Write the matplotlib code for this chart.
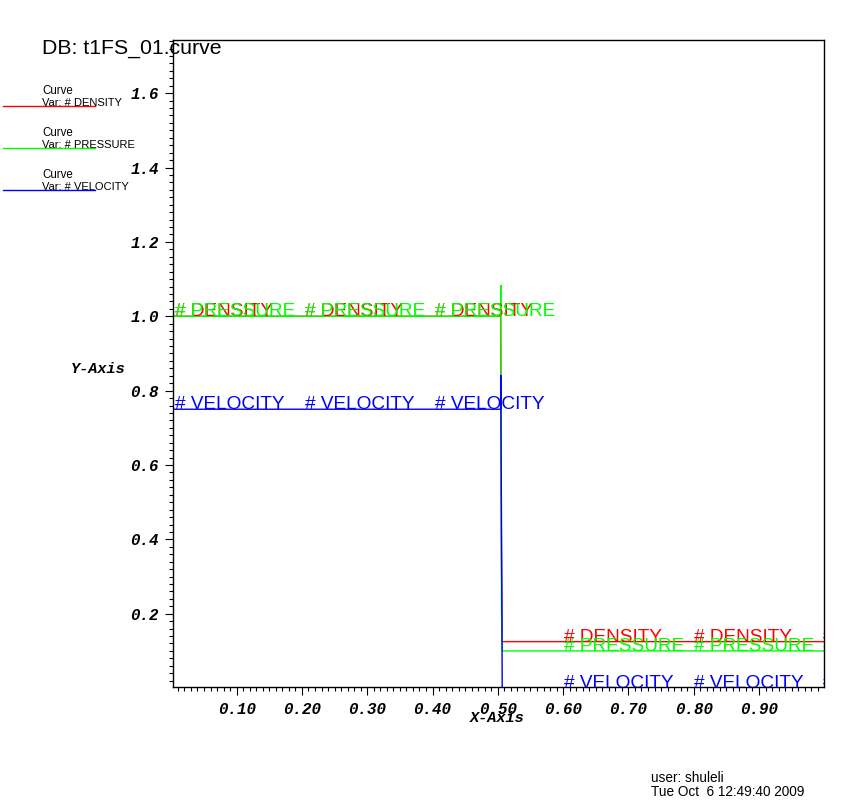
import numpy as np
import matplotlib
matplotlib.use("Agg")
import matplotlib.pyplot as plt
from matplotlib.ticker import MultipleLocator, FormatStrFormatter

# curve data (shock tube state at the end time)
x_density = [0.0, 0.5043, 0.5045, 0.5055, 0.5067, 1.0]
y_density = [1.0, 1.0, 0.85, 0.36, 0.125, 0.125]

x_pressure = [0.0, 0.5043, 0.5045, 0.5055, 0.5067, 1.0]
y_pressure = [1.0, 1.0, 1.084, 0.22, 0.1, 0.1]

x_velocity = [0.0, 0.5043, 0.5045, 0.5060, 0.5067, 1.0]
y_velocity = [0.75, 0.75, 0.842, 0.30, 0.0, 0.0]

curve_names = ["# DENSITY", "# PRESSURE", "# VELOCITY"]
curve_colors = ["#ff0000", "#00ff00", "#0000ff"]

# where VisIt repeats the curve labels
label_x = [0.005, 0.204, 0.404, 0.602, 0.801, 0.998]

W, H = 868, 809


def px(x, y):
    # pixel position -> figure fraction
    return x / W, 1 - y / H


fig = plt.figure(figsize=(W / 100, H / 100), dpi=100)
ax = fig.add_axes([173.3 / W, 1 - 687 / H, (824 - 173.3) / W, (687 - 40) / H])

curves = [(x_density, y_density), (x_pressure, y_pressure), (x_velocity, y_velocity)]
for (xs, ys), name, col in zip(curves, curve_names, curve_colors):
    ax.plot(xs, ys, color=col, lw=1.0, solid_joinstyle="miter")
    for lx in label_x:
        ly = np.interp(lx, xs, ys)
        ax.text(lx, ly, name, color=col, fontsize=13.7, family="Liberation Sans",
                ha="left", va="baseline", clip_on=True)

ax.set_xlim(0.003, 0.9995)
ax.set_ylim(0.003, 1.743)

tick_font = dict(family="Liberation Mono", weight="bold", style="italic", size=11.4)
ax.xaxis.set_major_locator(MultipleLocator(0.1))
ax.xaxis.set_minor_locator(MultipleLocator(0.01))
ax.xaxis.set_major_formatter(FormatStrFormatter("%.2f"))
ax.yaxis.set_major_locator(MultipleLocator(0.2))
ax.yaxis.set_minor_locator(MultipleLocator(0.02))
ax.yaxis.set_major_formatter(FormatStrFormatter("%.1f"))
ax.tick_params(which="major", direction="out", length=6, width=0.8, pad=4.5)
ax.tick_params(which="minor", direction="out", length=3, width=0.8)
for lab in ax.get_xticklabels() + ax.get_yticklabels():
    lab.set_fontproperties(matplotlib.font_manager.FontProperties(**tick_font))
for sp in ax.spines.values():
    sp.set_linewidth(1.0)

# axis titles sit where VisIt puts them
fig.text(*px(497, 718), "X-Axis", ha="center", va="center",
         family="Liberation Mono", weight="bold", style="italic", size=11)
fig.text(*px(98, 369), "Y-Axis", ha="center", va="center",
         family="Liberation Mono", weight="bold", style="italic", size=11)

# database title
fig.text(*px(42, 54), "DB: t1FS_01.curve", ha="left", va="baseline",
         family="Liberation Sans", size=15.3)

# legend
for i, (name, col) in enumerate(zip(curve_names, curve_colors)):
    y0 = 106 + 42 * i
    fig.add_artist(plt.Line2D([3 / W, 95 / W], [1 - y0 / H, 1 - y0 / H],
                              color=col, lw=1.0))
    fig.text(*px(42, y0 - 11.5), "Curve", ha="left", va="baseline",
             family="Liberation Sans", size=8.3)
    fig.text(*px(42, y0 + 0.5), "Var: " + name, ha="left", va="baseline",
             family="Liberation Sans", size=8.0)

# user / date stamp
fig.text(*px(651, 782), "user: shuleli", ha="left", va="baseline",
         family="Liberation Sans", size=9.8)
fig.text(*px(651, 796), "Tue Oct  6 12:49:40 2009", ha="left", va="baseline",
         family="Liberation Sans", size=9.8)

fig.savefig("out.png", dpi=100)
